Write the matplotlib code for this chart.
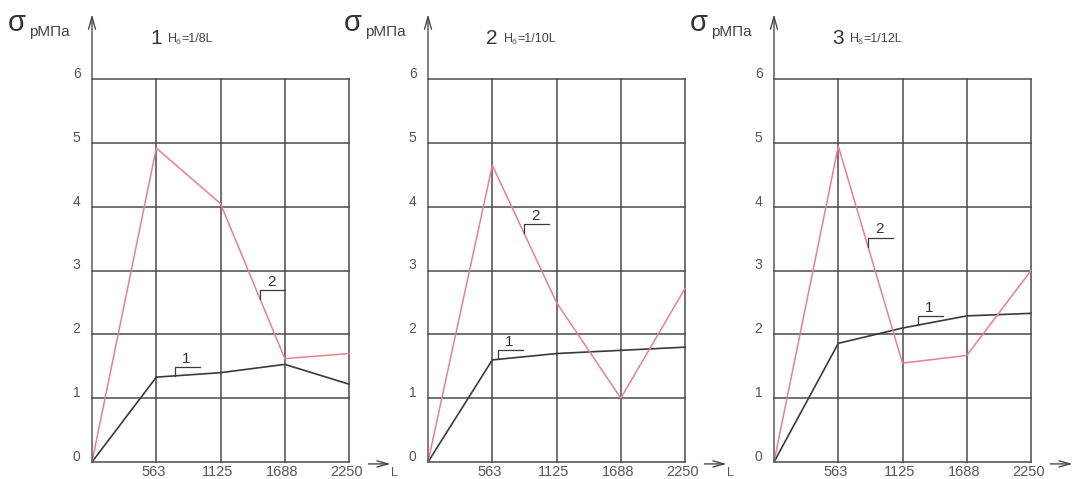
import matplotlib
matplotlib.use("Agg")
import matplotlib.pyplot as plt

plt.rcParams['font.family'] = ['Liberation Sans', 'DejaVu Sans']

# ---- data ----
L_ticks = [0, 563, 1125, 1688, 2250]
y_ticks = [0, 1, 2, 3, 4, 5, 6]
panel_numbers = ["1", "2", "3"]
panel_ratios = ["1/8L", "1/10L", "1/12L"]

curve1_p1 = [0, 1.33, 1.40, 1.53, 1.22]
curve2_p1 = [0, 4.92, 4.05, 1.62, 1.70]
curve1_p2 = [0, 1.60, 1.70, 1.75, 1.80]
curve2_p2 = [0, 4.65, 2.50, 1.00, 2.72]
curve1_p3 = [0, 1.86, 2.10, 2.29, 2.33]
curve2_p3 = [0, 4.95, 1.55, 1.67, 3.00]

curves1 = [curve1_p1, curve1_p2, curve1_p3]
curves2 = [curve2_p1, curve2_p2, curve2_p3]

# leader marks (x on curve) per panel
lead1_x = [727, 613, 1261]
lead2_x = [1471, 840, 823]

# ---- layout ----
W, H = 1072, 479
fig = plt.figure(figsize=(W / 100, H / 100), dpi=100)
origins_px = [92, 428, 774]
y0_px = 462
sx = 257 / 2250.0
sy = 63.8
xmax, ymax = 2700, 7.2

GRID = '#4a4a4a'
TXT = '#555555'
RED = '#e8808f'
BLK = '#3a3a3a'


def interp(xs, ys, x):
    for i in range(len(xs) - 1):
        if xs[i] <= x <= xs[i + 1]:
            t = (x - xs[i]) / (xs[i + 1] - xs[i])
            return ys[i] + t * (ys[i + 1] - ys[i])
    return ys[-1]


def leader(ax, xs, ys, x0, label):
    yc = interp(xs, ys, x0)
    yt = yc + 0.14
    w = 220
    ax.plot([x0, x0, x0 + w], [yc, yt, yt], color=BLK, lw=0.9, clip_on=False)
    ax.text(x0 + 0.45 * w, yt + 0.02, label, fontsize=11, color='#333333',
            ha='center', va='bottom')


for k in range(3):
    ox = origins_px[k]
    left = ox / W
    bottom = 1 - y0_px / H
    ax = fig.add_axes([left, bottom, xmax * sx / W, ymax * sy / H])
    ax.set_xlim(0, xmax)
    ax.set_ylim(0, ymax)
    ax.axis('off')

    # grid
    for yv in y_ticks:
        ax.plot([0, L_ticks[-1]], [yv, yv], color=GRID, lw=1.1, clip_on=False)
    for xv in L_ticks[1:]:
        ax.plot([xv, xv], [0, y_ticks[-1]], color=GRID, lw=1.1, clip_on=False)

    # y axis arrow
    ax.annotate('', xy=(0, 7.02), xytext=(0, 0),
                arrowprops=dict(arrowstyle='->,head_length=0.9,head_width=0.25',
                                color=GRID, lw=1.0, shrinkA=0, shrinkB=0),
                annotation_clip=False)
    # x axis arrow (after last label)
    ax.annotate('', xy=(2615, -0.03), xytext=(2420, -0.03),
                arrowprops=dict(arrowstyle='->,head_length=0.8,head_width=0.22',
                                color=GRID, lw=1.0, shrinkA=0, shrinkB=0),
                annotation_clip=False)
    if k < 2:
        ax.text(2645, -0.17, 'L', fontsize=9, color=TXT, ha='center',
                va='center', clip_on=False)

    # tick labels
    for yv in y_ticks:
        ax.text(-100, yv + 0.08, str(yv), fontsize=10, color=TXT,
                ha='right', va='center', clip_on=False)
    for xv in L_ticks[1:]:
        ax.text(xv - 25, -0.05, str(xv), fontsize=10.5, color=TXT,
                ha='center', va='top', clip_on=False)

    # curves
    ax.plot(L_ticks, curves1[k], color=BLK, lw=1.2, clip_on=False)
    ax.plot(L_ticks, curves2[k], color=RED, lw=1.1, clip_on=False)

    leader(ax, L_ticks, curves1[k], lead1_x[k], '1')
    leader(ax, L_ticks, curves2[k], lead2_x[k], '2')

    # y label: sigma + subscript text
    fig.text((ox - 84) / W, 1 - 31 / H, 'σ', fontsize=21, color='#333333',
             ha='left', va='baseline')
    fig.text((ox - 63) / W, 1 - 36 / H, 'рМПа', fontsize=11, color='#444444',
             ha='left', va='baseline')

    # title
    fig.text((ox + 58) / W, 1 - 44 / H, panel_numbers[k], fontsize=15,
             color='#333333', ha='left', va='baseline')
    fig.text((ox + 76) / W, 1 - 42 / H, 'H', fontsize=9, color='#444444',
             ha='left', va='baseline')
    fig.text((ox + 83) / W, 1 - 39 / H, 'б', fontsize=6, color='#444444',
             ha='left', va='top')
    fig.text((ox + 89) / W, 1 - 42 / H, '=' + panel_ratios[k], fontsize=9,
             color='#444444', ha='left', va='baseline')

fig.savefig('out.png', dpi=100, facecolor='white')
